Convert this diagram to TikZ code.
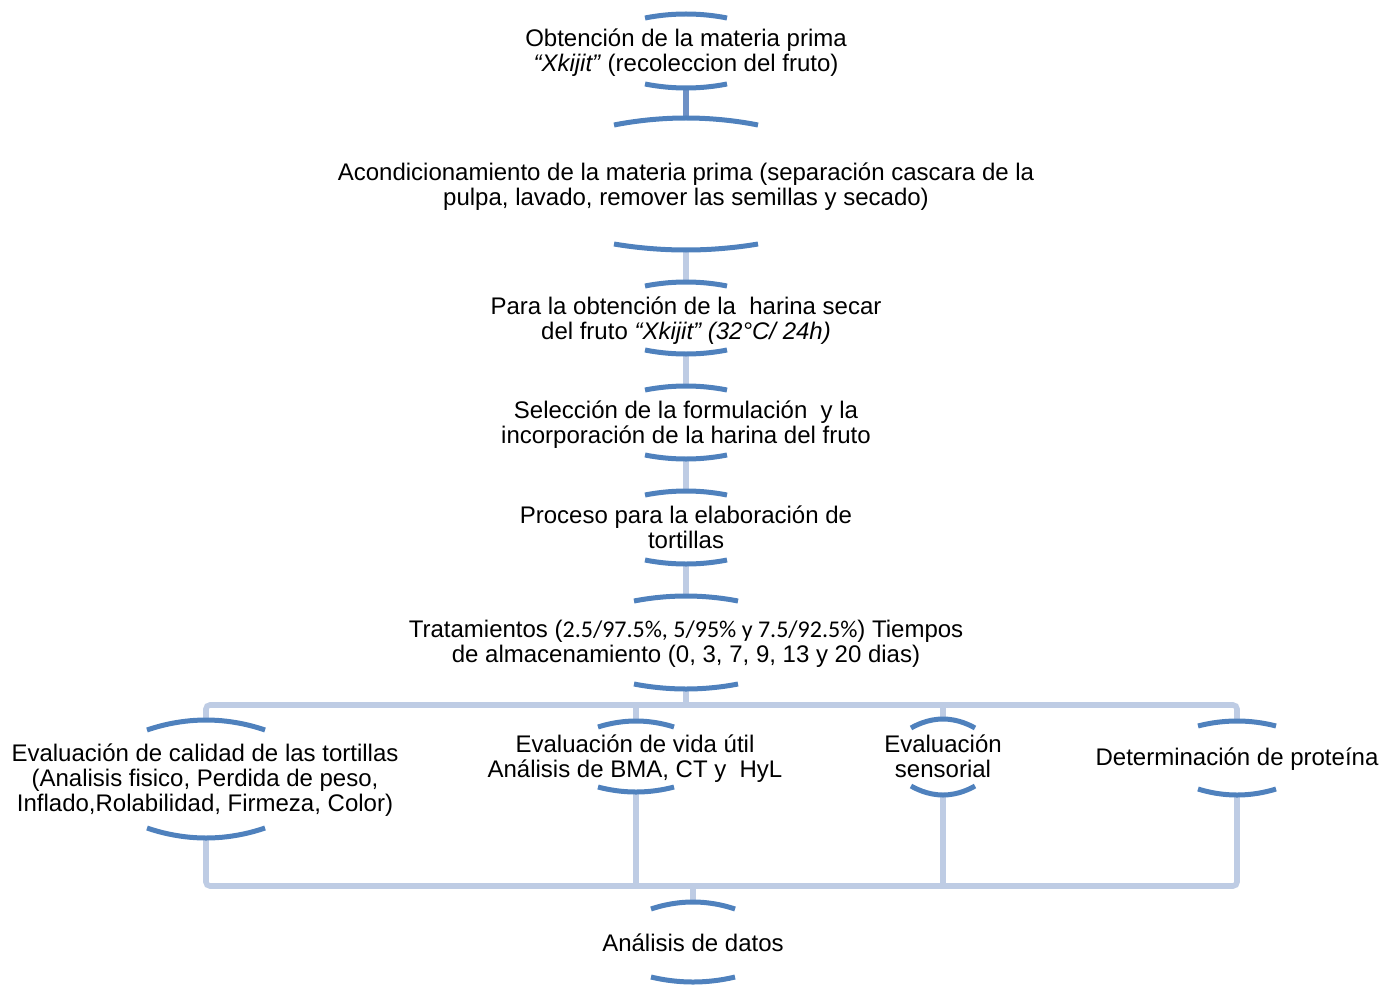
\documentclass[tikz,border=0pt]{standalone}
\usepackage{fontspec}
\setmainfont{Liberation Sans}
\newfontfamily\calibrifont{Carlito}
\usepackage{tikz}
\usetikzlibrary{calc}
\definecolor{brblue}{RGB}{79,129,189}
\definecolor{linkblue}{RGB}{190,204,228}
\definecolor{linkdark}{RGB}{110,145,198}
\tikzset{
  bracket/.style={draw=brblue, line width=2.5pt},
  link/.style={draw=linkblue, line width=2.8pt},
  darklink/.style={draw=linkdark, line width=2.8pt},
  stagetext/.style={align=center, inner sep=0pt,
    font=\fontsize{12}{12.5}\selectfont}
}

\begin{document}
\begin{tikzpicture}[x=0.5pt, y=-0.5pt]
  \useasboundingbox (0,0) rectangle (1395,984);

  % Bracket centres (top / bottom of every stage)
  \coordinate (s1t) at (686,14);   \coordinate (s1b) at (686,88);
  \coordinate (s2t) at (686,118);  \coordinate (s2b) at (686,250);
  \coordinate (s3t) at (686,282);  \coordinate (s3b) at (686,354);
  \coordinate (s4t) at (686,386);  \coordinate (s4b) at (686,459);
  \coordinate (s5t) at (686,491);  \coordinate (s5b) at (686,564);
  \coordinate (s6t) at (686,596);  \coordinate (s6b) at (686,689);
  \coordinate (c1t) at (206,720);  \coordinate (c1b) at (206,838);
  \coordinate (c2t) at (636,721);  \coordinate (c2b) at (636,792);
  \coordinate (c3t) at (943,719);  \coordinate (c3b) at (943,795);
  \coordinate (c4t) at (1237,721); \coordinate (c4b) at (1237,795);
  \coordinate (s7t) at (693,902);  \coordinate (s7b) at (693,982);
  \coordinate (bus1) at (686,705);
  \coordinate (bus2) at (693,886);

  % Connectors
  \draw[darklink] (s1b) -- (s2t);
  \draw[link] (s2b) -- (s3t);
  \draw[link] (s3b) -- (s4t);
  \draw[link] (s4b) -- (s5t);
  \draw[link] (s5b) -- (s6t);
  \draw[link] (s6b) -- (bus1);
  \draw[link, rounded corners=2pt] (c1t) |- (bus1) -| (c4t);
  \draw[link] (c2t) -- (c2t |- bus1);
  \draw[link] (c3t) -- (c3t |- bus1);
  \draw[link, rounded corners=2pt] (c1b) |- (bus2) -| (c4b);
  \draw[link] (c2b) -- (c2b |- bus2);
  \draw[link] (c3b) -- (c3b |- bus2);
  \draw[link] (bus2) -- (s7t);

  % Brackets
  \foreach \c/\w/\s in {s1t/41/4, s1b/41/-4, s2t/72/7, s2b/72/-6,
      s3t/41/4, s3b/41/-4, s4t/41/4, s4b/41/-4, s5t/41/4, s5b/41/-4,
      s6t/52/5, s6b/52/-5, c1t/59/10, c1b/59/-10, c2t/38/6, c2b/38/-5,
      c3t/32/9, c3b/32/-9, c4t/39/5, c4b/39/-6, s7t/42/7, s7b/42/-5}
    \draw[bracket] ($(\c)+(-\w,\s)$) parabola bend (\c) ($(\c)+(\w,\s)$);

  % Stage texts
  \node[stagetext] (st1) at (686,53)
    {Obtención de la materia prima\\ \textit{“Xkijit”} (recoleccion del fruto)};
  \node[stagetext] (st2) at (686,187)
    {Acondicionamiento de la materia prima (separación cascara de la\\
     pulpa, lavado, remover las semillas y secado)};
  \node[stagetext] (st3) at (686,321)
    {Para la obtención de la~ harina secar\\
     del fruto \textit{“Xkijit” (32°C/ 24h)}};
  \node[stagetext] (st4) at (686,425)
    {Selección de la formulación~ y la\\ incorporación de la harina del fruto};
  \node[stagetext] (st5) at (686,527)
    {Proceso para la elaboración de\\ tortillas};
  \node[stagetext] (st6) at (686,644)
    {Tratamientos ({\calibrifont 2.5/97.5\%, 5/95\% y 7.5/92.5\%}) Tiempos\\
     de almacenamiento (0, 3, 7, 9, 13 y 20 dias)};
  \node[stagetext] (ch1) at (205,780)
    {Evaluación de calidad de las tortillas\\
     (Analisis fisico, Perdida de peso,\\
     Inflado,Rolabilidad, Firmeza, Color)};
  \node[stagetext] (ch2) at (635,759)
    {Evaluación de vida útil\\ Análisis de BMA, CT y~ HyL};
  \node[stagetext] (ch3) at (943,756)
    {Evaluación\\ sensorial};
  \node[stagetext] (ch4) at (1237,759) {Determinación de proteína};
  \node[stagetext] (st7) at (693,943) {Análisis de datos};
\end{tikzpicture}
\end{document}
